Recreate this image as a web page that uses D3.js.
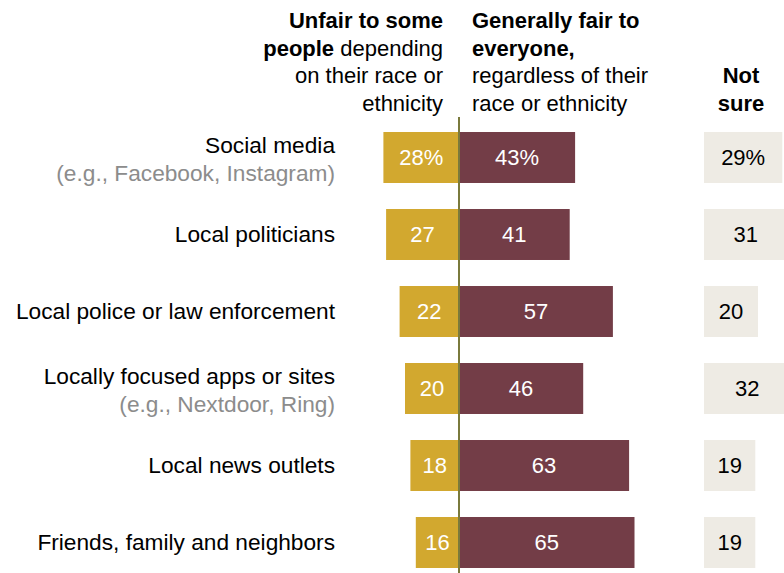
<!DOCTYPE html>
<html><head><meta charset="utf-8">
<script src="https://cdn.jsdelivr.net/npm/d3@7"></script>
<style>body{margin:0;background:#fff}svg{display:block}text{font-family:"Liberation Sans",Arial,sans-serif}</style>
</head><body><svg id="c" width="784" height="573"></svg>
<script>
const categories = ["Social media","Local politicians","Local police or law enforcement","Locally focused apps or sites","Local news outlets","Friends, family and neighbors"];
const subLabels = ["(e.g., Facebook, Instagram)","","","(e.g., Nextdoor, Ring)","",""];
const unfair = [28,27,22,20,18,16];
const fair = [43,41,57,46,63,65];
const notSure = [29,31,20,32,19,19];

const svg = d3.select("#c");
const W = 784, H = 573;
const center = 459;
const k = 2.7;
const FS = 22;
const LFS = 22.7;
const x = d3.scaleLinear().domain([0,100]).range([0, 100*k]);
const y = d3.scaleBand().domain(categories).range([119, 581]).paddingInner(0.338).paddingOuter(0.169);
const nsX = 704;

// header
const hdr = svg.append("g").attr("font-size",FS).attr("fill","#000");
const h1 = hdr.append("text").attr("text-anchor","end").attr("x",443);
[[["Unfair to some",true]],[["people",true],[" depending",false]],[["on their race or",false]],[["ethnicity",false]]].forEach((line,i)=>{
  line.forEach((seg,j)=>{
    const t = h1.append("tspan").text(seg[0]).attr("font-weight",seg[1]?"bold":"normal");
    if(j===0) t.attr("x",443).attr("y",28+i*27.5);
  });
});
const h2 = hdr.append("text").attr("text-anchor","start");
[["Generally fair to",true],["everyone,",true],["regardless of their",false],["race or ethnicity",false]].forEach((l,i)=>{
  h2.append("tspan").attr("x",472).attr("y",28+i*27.5).attr("font-weight",l[1]?"bold":"normal").text(l[0]);
});
const h3 = hdr.append("text").attr("text-anchor","middle").attr("font-weight","bold");
["Not","sure"].forEach((l,i)=>h3.append("tspan").attr("x",741).attr("y",83+i*27.5).text(l));

const rows = svg.append("g").selectAll("g").data(categories).join("g")
  .attr("transform",d=>`translate(0,${y(d)})`);
const bh = y.bandwidth();

rows.append("rect").attr("x",(d,i)=>center - x(unfair[i])).attr("width",(d,i)=>x(unfair[i])).attr("height",bh).attr("fill","#D2A82F");
rows.append("rect").attr("x",center).attr("width",(d,i)=>x(fair[i])).attr("height",bh).attr("fill","#733D47");
rows.append("rect").attr("x",nsX).attr("width",(d,i)=>x(notSure[i])).attr("height",bh).attr("fill","#EEEBE4");

rows.append("text").attr("x",(d,i)=>center - x(unfair[i])/2).attr("y",bh/2+8).attr("text-anchor","middle").attr("font-size",FS).attr("fill","#fff")
  .text((d,i)=>unfair[i]+(i===0?"%":""));
rows.append("text").attr("x",(d,i)=>center + x(fair[i])/2).attr("y",bh/2+8).attr("text-anchor","middle").attr("font-size",FS).attr("fill","#fff")
  .text((d,i)=>fair[i]+(i===0?"%":""));
rows.append("text").attr("x",(d,i)=>nsX + x(notSure[i])/2).attr("y",bh/2+8).attr("text-anchor","middle").attr("font-size",FS).attr("fill","#000")
  .text((d,i)=>notSure[i]+(i===0?"%":""));

rows.each(function(d,i){
  const g = d3.select(this);
  if(subLabels[i]){
    g.append("text").attr("x",335).attr("y",bh/2-4).attr("text-anchor","end").attr("font-size",LFS).attr("fill","#000").text(d);
    g.append("text").attr("x",335).attr("y",bh/2+24).attr("text-anchor","end").attr("font-size",LFS).attr("fill","#8C8C8C").text(subLabels[i]);
  } else {
    g.append("text").attr("x",335).attr("y",bh/2+8).attr("text-anchor","end").attr("font-size",LFS).attr("fill","#000").text(d);
  }
});

svg.append("line").attr("x1",center).attr("x2",center).attr("y1",117).attr("y2",H).attr("stroke","#7A7A3C").attr("stroke-width",2);
</script></body></html>
